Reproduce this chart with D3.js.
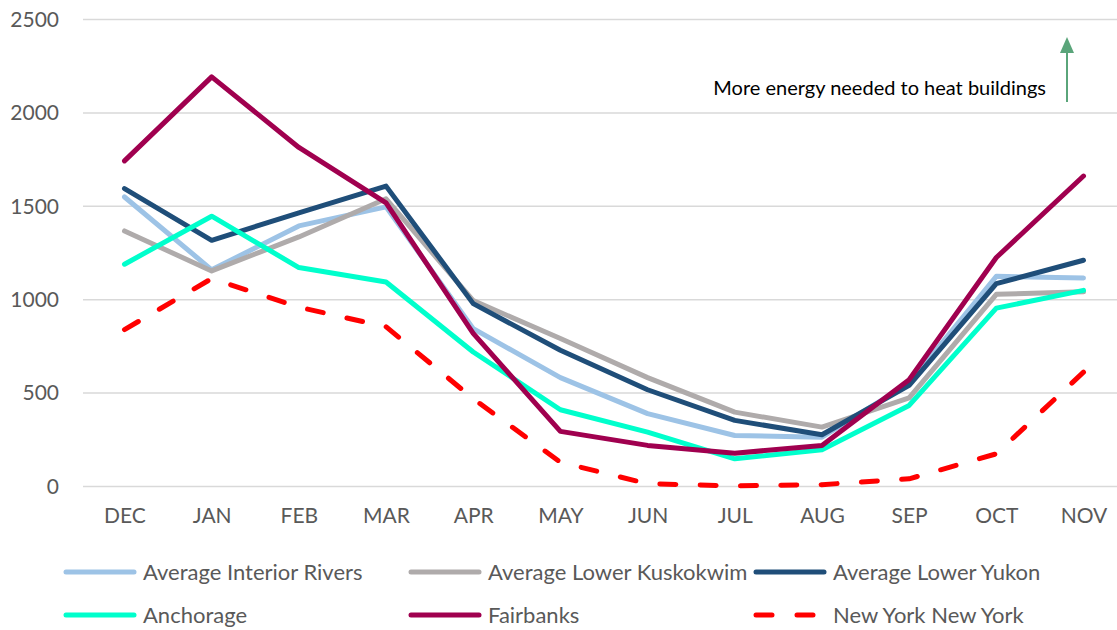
<!DOCTYPE html>
<html>
<head>
<meta charset="utf-8">
<script src="https://cdn.jsdelivr.net/npm/d3@7"></script>
<style>
  body { margin: 0; background: #fff; }
  svg { display: block; }
  svg text { font-family: Lato, "Open Sans", sans-serif; }
</style>
</head>
<body>
<div id="chart"></div>
<script>
// months on the x axis
const months = ["DEC", "JAN", "FEB", "MAR", "APR", "MAY", "JUN", "JUL", "AUG", "SEP", "OCT", "NOV"];
const yTicks = [0, 500, 1000, 1500, 2000, 2500];

// heating degree days per month
const interiorRivers = [1550, 1160, 1395, 1497, 845, 583, 390, 273, 264, 553, 1125, 1116];
const lowerKuskokwim = [1368, 1154, 1336, 1540, 995, 792, 583, 398, 318, 475, 1029, 1042];
const lowerYukon = [1595, 1318, 1465, 1608, 979, 729, 518, 354, 277, 541, 1086, 1211];
const anchorage = [1190, 1447, 1172, 1095, 720, 411, 291, 148, 197, 434, 955, 1050];
const fairbanks = [1743, 2193, 1815, 1518, 820, 295, 220, 178, 220, 572, 1226, 1662];
const newYork = [840, 1113, 960, 855, 470, 130, 15, 3, 10, 41, 175, 612];

const seriesNames = ["Average Interior Rivers", "Average Lower Kuskokwim", "Average Lower Yukon",
                     "Anchorage", "Fairbanks", "New York New York"];
const seriesValues = [interiorRivers, lowerKuskokwim, lowerYukon, anchorage, fairbanks, newYork];
const seriesColors = ["#9dc3e6", "#afabab", "#1f4e79", "#00ffcc", "#a0004f", "#ff0000"];

const width = 1117, height = 630;

let svg = d3.select("#chart").append("svg")
    .attr("width", width)
    .attr("height", height);

let x = d3.scalePoint()
    .domain(months)
    .range([124.5, 1083.5]);

let y = d3.scaleLinear()
    .domain([0, 2500])
    .range([486.5, 19.5]);

// gridlines + y labels
svg.append("g")
    .attr("class", "grid")
    .selectAll("line")
    .data(yTicks)
    .enter().append("line")
    .attr("x1", 83)
    .attr("x2", width)
    .attr("y1", d => y(d))
    .attr("y2", d => y(d))
    .attr("stroke", "#d9d9d9")
    .attr("stroke-width", 1.5);

let yAxis = svg.append("g")
    .attr("class", "y-axis")
    .attr("transform", "translate(59,0)")
    .call(d3.axisLeft(y).tickValues(yTicks).tickSize(0).tickPadding(0).tickFormat(d3.format("d")))
    .attr("font-family", null)
    .attr("font-size", null);
yAxis.select(".domain").remove();
yAxis.selectAll("text")
    .attr("fill", "#595959")
    .style("font-size", "21px");

// month labels
let xAxis = svg.append("g")
    .attr("class", "x-axis")
    .attr("transform", "translate(0,508)")
    .call(d3.axisBottom(x).tickSize(0).tickPadding(0))
    .attr("font-family", null)
    .attr("font-size", null);
xAxis.select(".domain").remove();
xAxis.selectAll("text")
    .attr("fill", "#595959")
    .attr("dy", "0.71em")
    .style("font-size", "21px");

// series lines
let line = d3.line()
    .x((d, i) => x(months[i]))
    .y(d => y(d));

let paths = svg.append("g")
    .attr("class", "lines")
    .selectAll("path")
    .data(seriesValues)
    .enter().append("path")
    .attr("d", line)
    .attr("fill", "none")
    .attr("stroke", (d, i) => seriesColors[i])
    .attr("stroke-width", 5)
    .attr("stroke-linejoin", "round")
    .attr("stroke-linecap", "round");

// stretch the dash pattern a bit so the dashed line ends on a dash
paths.filter((d, i) => i === 5)
    .attr("stroke-dasharray", function() {
        let len = this.getTotalLength();
        let n = Math.round((len - 16) / 41);
        let period = (len - 16) / n;
        return "16," + (period - 16);
    });

// annotation with arrow
svg.append("text")
    .attr("x", 1046)
    .attr("y", 88)
    .attr("dy", "0.35em")
    .attr("text-anchor", "end")
    .attr("fill", "#000")
    .style("font-size", "20px")
    .text("More energy needed to heat buildings");

svg.append("line")
    .attr("x1", 1067).attr("x2", 1067)
    .attr("y1", 102).attr("y2", 50)
    .attr("stroke", "#5aa57a")
    .attr("stroke-width", 2);
svg.append("path")
    .attr("d", "M1067,37 L1074,53 L1060,53 Z")
    .attr("fill", "#5aa57a");

// legend, 3 columns x 2 rows
const legendCols = [66, 411, 756];
const legendRows = [572, 615];

let legend = svg.append("g")
    .attr("class", "legend")
    .selectAll("g")
    .data(seriesNames)
    .enter().append("g")
    .attr("transform", (d, i) => "translate(" + legendCols[i % 3] + "," + legendRows[Math.floor(i / 3)] + ")");

legend.append("line")
    .attr("x1", 0).attr("x2", 68)
    .attr("y1", 0).attr("y2", 0)
    .attr("stroke", (d, i) => seriesColors[i])
    .attr("stroke-width", 5)
    .attr("stroke-linecap", "round")
    .attr("stroke-dasharray", (d, i) => i === 5 ? "16,25" : null);

legend.append("text")
    .attr("x", 77)
    .attr("y", 0)
    .attr("dy", "0.35em")
    .attr("fill", "#595959")
    .style("font-size", "22px")
    .text(d => d);
</script>
</body>
</html>
